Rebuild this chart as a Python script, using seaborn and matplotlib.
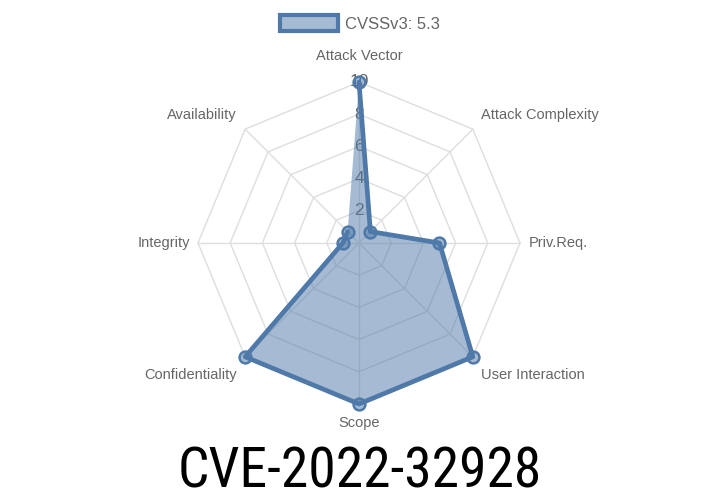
import numpy as np
import pandas as pd
import matplotlib
matplotlib.use('Agg')
import matplotlib.pyplot as plt
import seaborn as sns
from matplotlib.patches import Patch

### chart data
categories = ['Attack Vector', 'Attack Complexity', 'Priv.Req.', 'User Interaction',
              'Scope', 'Confidentiality', 'Integrity', 'Availability']
values = [10, 1, 5, 10, 10, 10, 1, 1]
ticks = [2, 4, 6, 8, 10]
legend_label = 'CVSSv3: 5.3'
title = 'CVE-2022-32928'

sns.set_theme(style='white')
plt.rcParams['font.family'] = ['Liberation Sans', 'DejaVu Sans']

line_col = '#4e79a8'
fill_col = (0.306, 0.475, 0.659, 0.5)
grid_col = '#dedede'
text_col = '#666666'

fig = plt.figure(figsize=(7.2, 5.04), dpi=100)
ax = fig.add_axes([0.275, 0.1984, 0.4472, 0.639], projection='polar')
ax.set_theta_zero_location('N')
ax.set_theta_direction(-1)

n = len(categories)
theta = np.arange(n) * 2 * np.pi / n
df = pd.DataFrame({'theta': np.append(theta, theta[0]),
                   'r': values + values[:1]})

### octagon grid + spokes
ax.grid(False)
ax.spines['polar'].set_visible(False)
ring_theta = np.append(theta, theta[0])
for t in ticks:
    ax.plot(ring_theta, [t] * len(ring_theta), color=grid_col, lw=1, zorder=1, clip_on=False)
for th in theta:
    ax.plot([th, th], [0, ticks[-1]], color=grid_col, lw=1, zorder=1, clip_on=False)

### tick labels along the top spoke
for t in ticks:
    ax.text(0, t, str(t), color=text_col, fontsize=12.5, ha='center', va='center', zorder=2)

### data
ax.fill(df['theta'], df['r'], color=fill_col, lw=0, zorder=3, label=legend_label)
sns.lineplot(data=df, x='theta', y='r', sort=False, ax=ax, color=line_col, lw=3.4,
             marker='o', markersize=8.5, markerfacecolor=fill_col,
             markeredgecolor=line_col, markeredgewidth=1.8, zorder=4, legend=False,
             clip_on=False)

ax.set_ylim(0, 10)
ax.set_xticks([])
ax.set_yticks([])
ax.set_xlabel('')
ax.set_ylabel('')

### point labels
for th, lab in zip(theta, categories):
    s, c = np.sin(th), np.cos(th)
    ha = 'center' if abs(s) < 0.1 else ('left' if s > 0 else 'right')
    va = 'center' if abs(c) < 0.1 else ('bottom' if c > 0 else 'top')
    dx = 6 * np.sign(s) if abs(s) > 0.1 else 0
    dy = 5 * np.sign(c) if c > 0.1 else (-8 if c < -0.1 else 0)
    if abs(s) < 0.1:
        dy = 14 if c > 0 else -9
    ax.annotate(lab, xy=(th, 10), xytext=(dx, dy), textcoords='offset points',
                ha=ha, va=va, color=text_col, fontsize=10.5, annotation_clip=False)

### legend
handle = Patch(facecolor=fill_col, edgecolor=line_col, linewidth=3)
fig.legend(handles=[handle], labels=[legend_label], loc='upper center',
           bbox_to_anchor=(0.5, 1.0), frameon=False, fontsize=12,
           handlelength=3.5, handleheight=1.1, handletextpad=0.45, labelcolor=text_col)

### big title
fig.text(0.5, 0.032, title, ha='center', va='baseline', fontsize=40, color='black',
         family=['Liberation Sans Narrow', 'Roboto Condensed', 'Open Sans'])

fig.savefig('out.png', dpi=100)
